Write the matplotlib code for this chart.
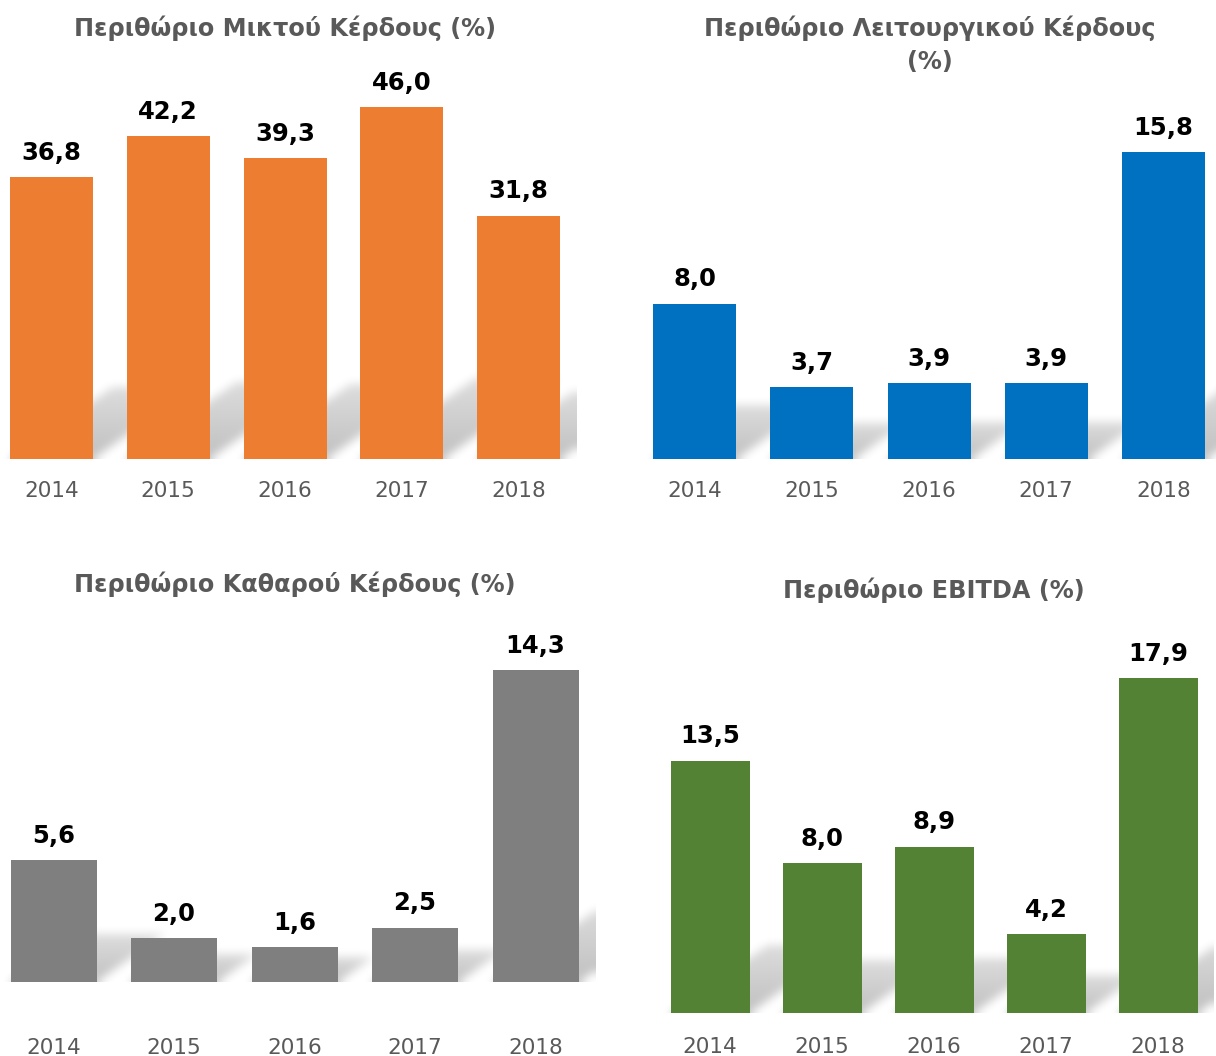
import matplotlib
matplotlib.use("Agg")
import matplotlib.pyplot as plt
import numpy as np

plt.rcParams['font.family'] = ['DejaVu Sans']

years = ["2014", "2015", "2016", "2017", "2018"]

gross_margin = [36.8, 42.2, 39.3, 46.0, 31.8]
operating_margin = [8.0, 3.7, 3.9, 3.9, 15.8]
net_margin = [5.6, 2.0, 1.6, 2.5, 14.3]
ebitda_margin = [13.5, 8.0, 8.9, 4.2, 17.9]

titles = [
    ["Περιθώριο Μικτού Κέρδους (%)"],
    ["Περιθώριο Λειτουργικού Κέρδους", "(%)"],
    ["Περιθώριο Καθαρού Κέρδους (%)"],
    ["Περιθώριο EBITDA (%)"],
]
colors = ["#ED7D31", "#0070C0", "#7F7F7F", "#548235"]
series = [gross_margin, operating_margin, net_margin, ebitda_margin]

W, H = 1216, 1056
DPI = 100
fig = plt.figure(figsize=(W / DPI, H / DPI), dpi=DPI)

# layout (pixels)
layouts = [
    dict(x0=51.5, x4=518.5, bw=83, base=459, upp=7.65, top=60, right=578, tx=285, ty=[28], toff=34),
    dict(x0=694.5, x4=1163.5, bw=83, base=459, upp=19.43, top=90, right=1216, tx=930, ty=[28, 62], toff=34),
    dict(x0=53.5, x4=535.5, bw=86, base=982, upp=21.8, top=610, right=598, tx=295, ty=[584], toff=68),
    dict(x0=710, x4=1158, bw=79, base=1013, upp=18.7, top=620, right=1216, tx=934, ty=[590], toff=36),
]

TEXT_GRAY = "#595959"


def box_blur(a, r, axis):
    a = np.swapaxes(a, 0, axis)
    pad = np.concatenate([np.repeat(a[:1], r, 0), a, np.repeat(a[-1:], r, 0)], 0)
    c = np.cumsum(np.concatenate([np.zeros_like(pad[:1]), pad], 0), 0)
    out = (c[2 * r + 1:] - c[:-2 * r - 1]) / (2 * r + 1)
    return np.swapaxes(out, 0, axis)


def blur(a, r):
    for _ in range(3):
        a = box_blur(a, r, 0)
        a = box_blur(a, r, 1)
    return a


for vals, title, col, L in zip(series, titles, colors, layouts):
    sp = (L["x4"] - L["x0"]) / 4
    left = L["x0"] - sp / 2
    width = sp * 5
    hpx = L["base"] - L["top"]
    ax = fig.add_axes([left / W, (H - L["base"]) / H, width / W, hpx / H])
    xlim = (-0.5, 4.5)
    ylim = (0, hpx / L["upp"])
    x = np.arange(len(years))
    bw = L["bw"] / sp

    # soft cast shadow (rendered as a blurred raster behind the bars)
    nw, nh = int(round(width)), int(round(hpx))
    uu, vv = np.meshgrid(np.arange(nw) + 0.5, np.arange(nh) + 0.5)
    mask = np.zeros((nh, nw))
    for xi, v in zip(x, vals):
        hb = v * L["upp"]
        hs = 4.3 * np.sqrt(hb)
        dx = hs / 0.7
        lpx = (xi - bw / 2 - xlim[0]) * sp
        rpx = (xi + bw / 2 - xlim[0]) * sp
        shift = vv * dx / hs
        inside = (vv <= hs) & (uu >= lpx + shift) & (uu <= rpx + shift)
        inten = 1.0 - 0.45 * vv / hs
        mask = np.maximum(mask, np.where(inside, inten, 0.0))
    mask = blur(mask, 4)
    mask[:, uu[0] > (L["right"] - left)] = 0
    rgba = np.zeros((nh, nw, 4))
    rgba[..., 3] = 0.25 * mask
    ax.imshow(rgba, extent=(xlim[0], xlim[1], ylim[0], ylim[1]), origin="lower",
              aspect="auto", zorder=1, interpolation="bilinear")

    ax.bar(x, vals, width=bw, color=col, zorder=3, edgecolor="none")
    for xi, v in zip(x, vals):
        ax.annotate(f"{v:.1f}".replace(".", ","), (xi, v), xytext=(0, 12.5),
                    textcoords="offset points", ha="center", va="baseline",
                    fontsize=17.5, fontweight="bold", color="black", zorder=4)

    ax.set_xlim(*xlim)
    ax.set_ylim(*ylim)
    ax.set_xticks(x)
    ax.set_xticklabels(years, fontsize=15.5, color=TEXT_GRAY)
    ax.tick_params(axis="x", length=0, pad=(L["toff"] - 12) * 0.72)
    ax.set_yticks([])
    for s in ax.spines.values():
        s.set_visible(False)
    ax.patch.set_alpha(0)

    for line, ty in zip(title, L["ty"]):
        fig.text(L["tx"] / W, 1 - ty / H, line, ha="center", va="center",
                 fontsize=17.3, fontweight="bold", color=TEXT_GRAY)

fig.savefig("out.png", dpi=DPI)
